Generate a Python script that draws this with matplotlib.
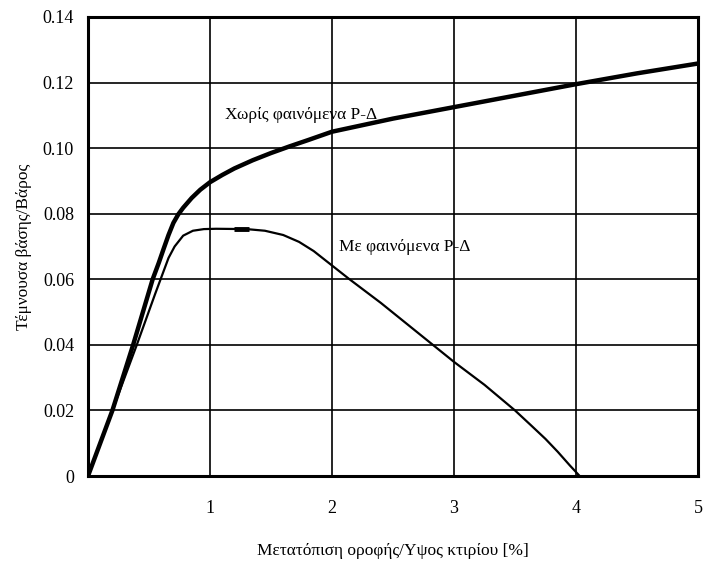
import matplotlib
matplotlib.use("Agg")
import matplotlib.pyplot as plt

plt.rcParams['font.family'] = ['Liberation Serif', 'DejaVu Serif']

# Χωρίς φαινόμενα P-Δ
x_no_pd = [0, 0.2, 0.37, 0.53, 0.58, 0.62, 0.66, 0.70, 0.74, 0.78, 0.85, 0.92, 1.0,
           1.1, 1.2, 1.35, 1.5, 1.65, 1.8, 2.0, 2.5, 3.0, 3.5, 4.0, 4.5, 5.0]
y_no_pd = [0, 0.02, 0.04, 0.06, 0.065, 0.0693, 0.0735, 0.0772, 0.0798, 0.0818, 0.0848,
           0.0873, 0.0896, 0.0918, 0.0938, 0.0963, 0.0985, 0.1005, 0.1024, 0.1050,
           0.1090, 0.1125, 0.1160, 0.1195, 0.1228, 0.1258]

# Με φαινόμενα P-Δ
x_pd = [0, 0.2, 0.40, 0.55, 0.61, 0.66, 0.71, 0.78, 0.86, 0.95, 1.05, 1.3, 1.45, 1.6,
        1.73, 1.85, 2.0, 2.14, 2.4, 2.82, 3.0, 3.25, 3.5, 3.63, 3.75, 3.85, 3.95, 4.03]
y_pd = [0, 0.02, 0.04, 0.0555, 0.0615, 0.0665, 0.0700, 0.0733, 0.0748, 0.0753, 0.0754,
        0.0753, 0.0748, 0.0735, 0.0714, 0.0686, 0.0642, 0.0601, 0.0528, 0.0402, 0.0348,
        0.0278, 0.0200, 0.0155, 0.0113, 0.0074, 0.0032, 0.0]

# short thicker piece on the plateau
x_mark = [1.2, 1.32]
y_mark = [0.0753, 0.0753]

xticks = [1, 2, 3, 4, 5]
yticks = [0, 0.02, 0.04, 0.06, 0.08, 0.10, 0.12, 0.14]
ylabels = ['0', '0.02', '0.04', '0.06', '0.08', '0.10', '0.12', '0.14']

fig = plt.figure(figsize=(7.04, 5.65), dpi=100)
ax = fig.add_axes([0.125, 0.1575, 0.8665, 0.8125])

ax.plot(x_no_pd, y_no_pd, color='black', lw=3.2, solid_capstyle='round',
        solid_joinstyle='round')
ax.plot(x_pd, y_pd, color='black', lw=1.6, solid_joinstyle='round')
ax.plot(x_mark, y_mark, color='black', lw=3.5, solid_capstyle='butt')

ax.set_xlim(0, 5)
ax.set_ylim(0, 0.14)
ax.set_xticks(xticks)
ax.set_yticks(yticks)
ax.set_yticklabels(ylabels)
ax.tick_params(length=0, labelsize=13)
ax.tick_params(axis='x', pad=17)
ax.tick_params(axis='y', pad=10)
ax.grid(True, color='black', lw=1.2)
ax.set_axisbelow(True)
for s in ax.spines.values():
    s.set_linewidth(2.2)

ax.text(1.12, 0.110, 'Χωρίς φαινόμενα P-Δ', fontsize=12.5, va='center')
ax.text(2.06, 0.0698, 'Με φαινόμενα P-Δ', fontsize=12.5, va='center')

ax.set_xlabel('Μετατόπιση οροφής/Υψος κτιρίου [%]', fontsize=12.5, labelpad=19)
ax.set_ylabel('Τέμνουσα βάσης/Βάρος', fontsize=12.5, labelpad=8)

fig.savefig('out.png', dpi=100)
